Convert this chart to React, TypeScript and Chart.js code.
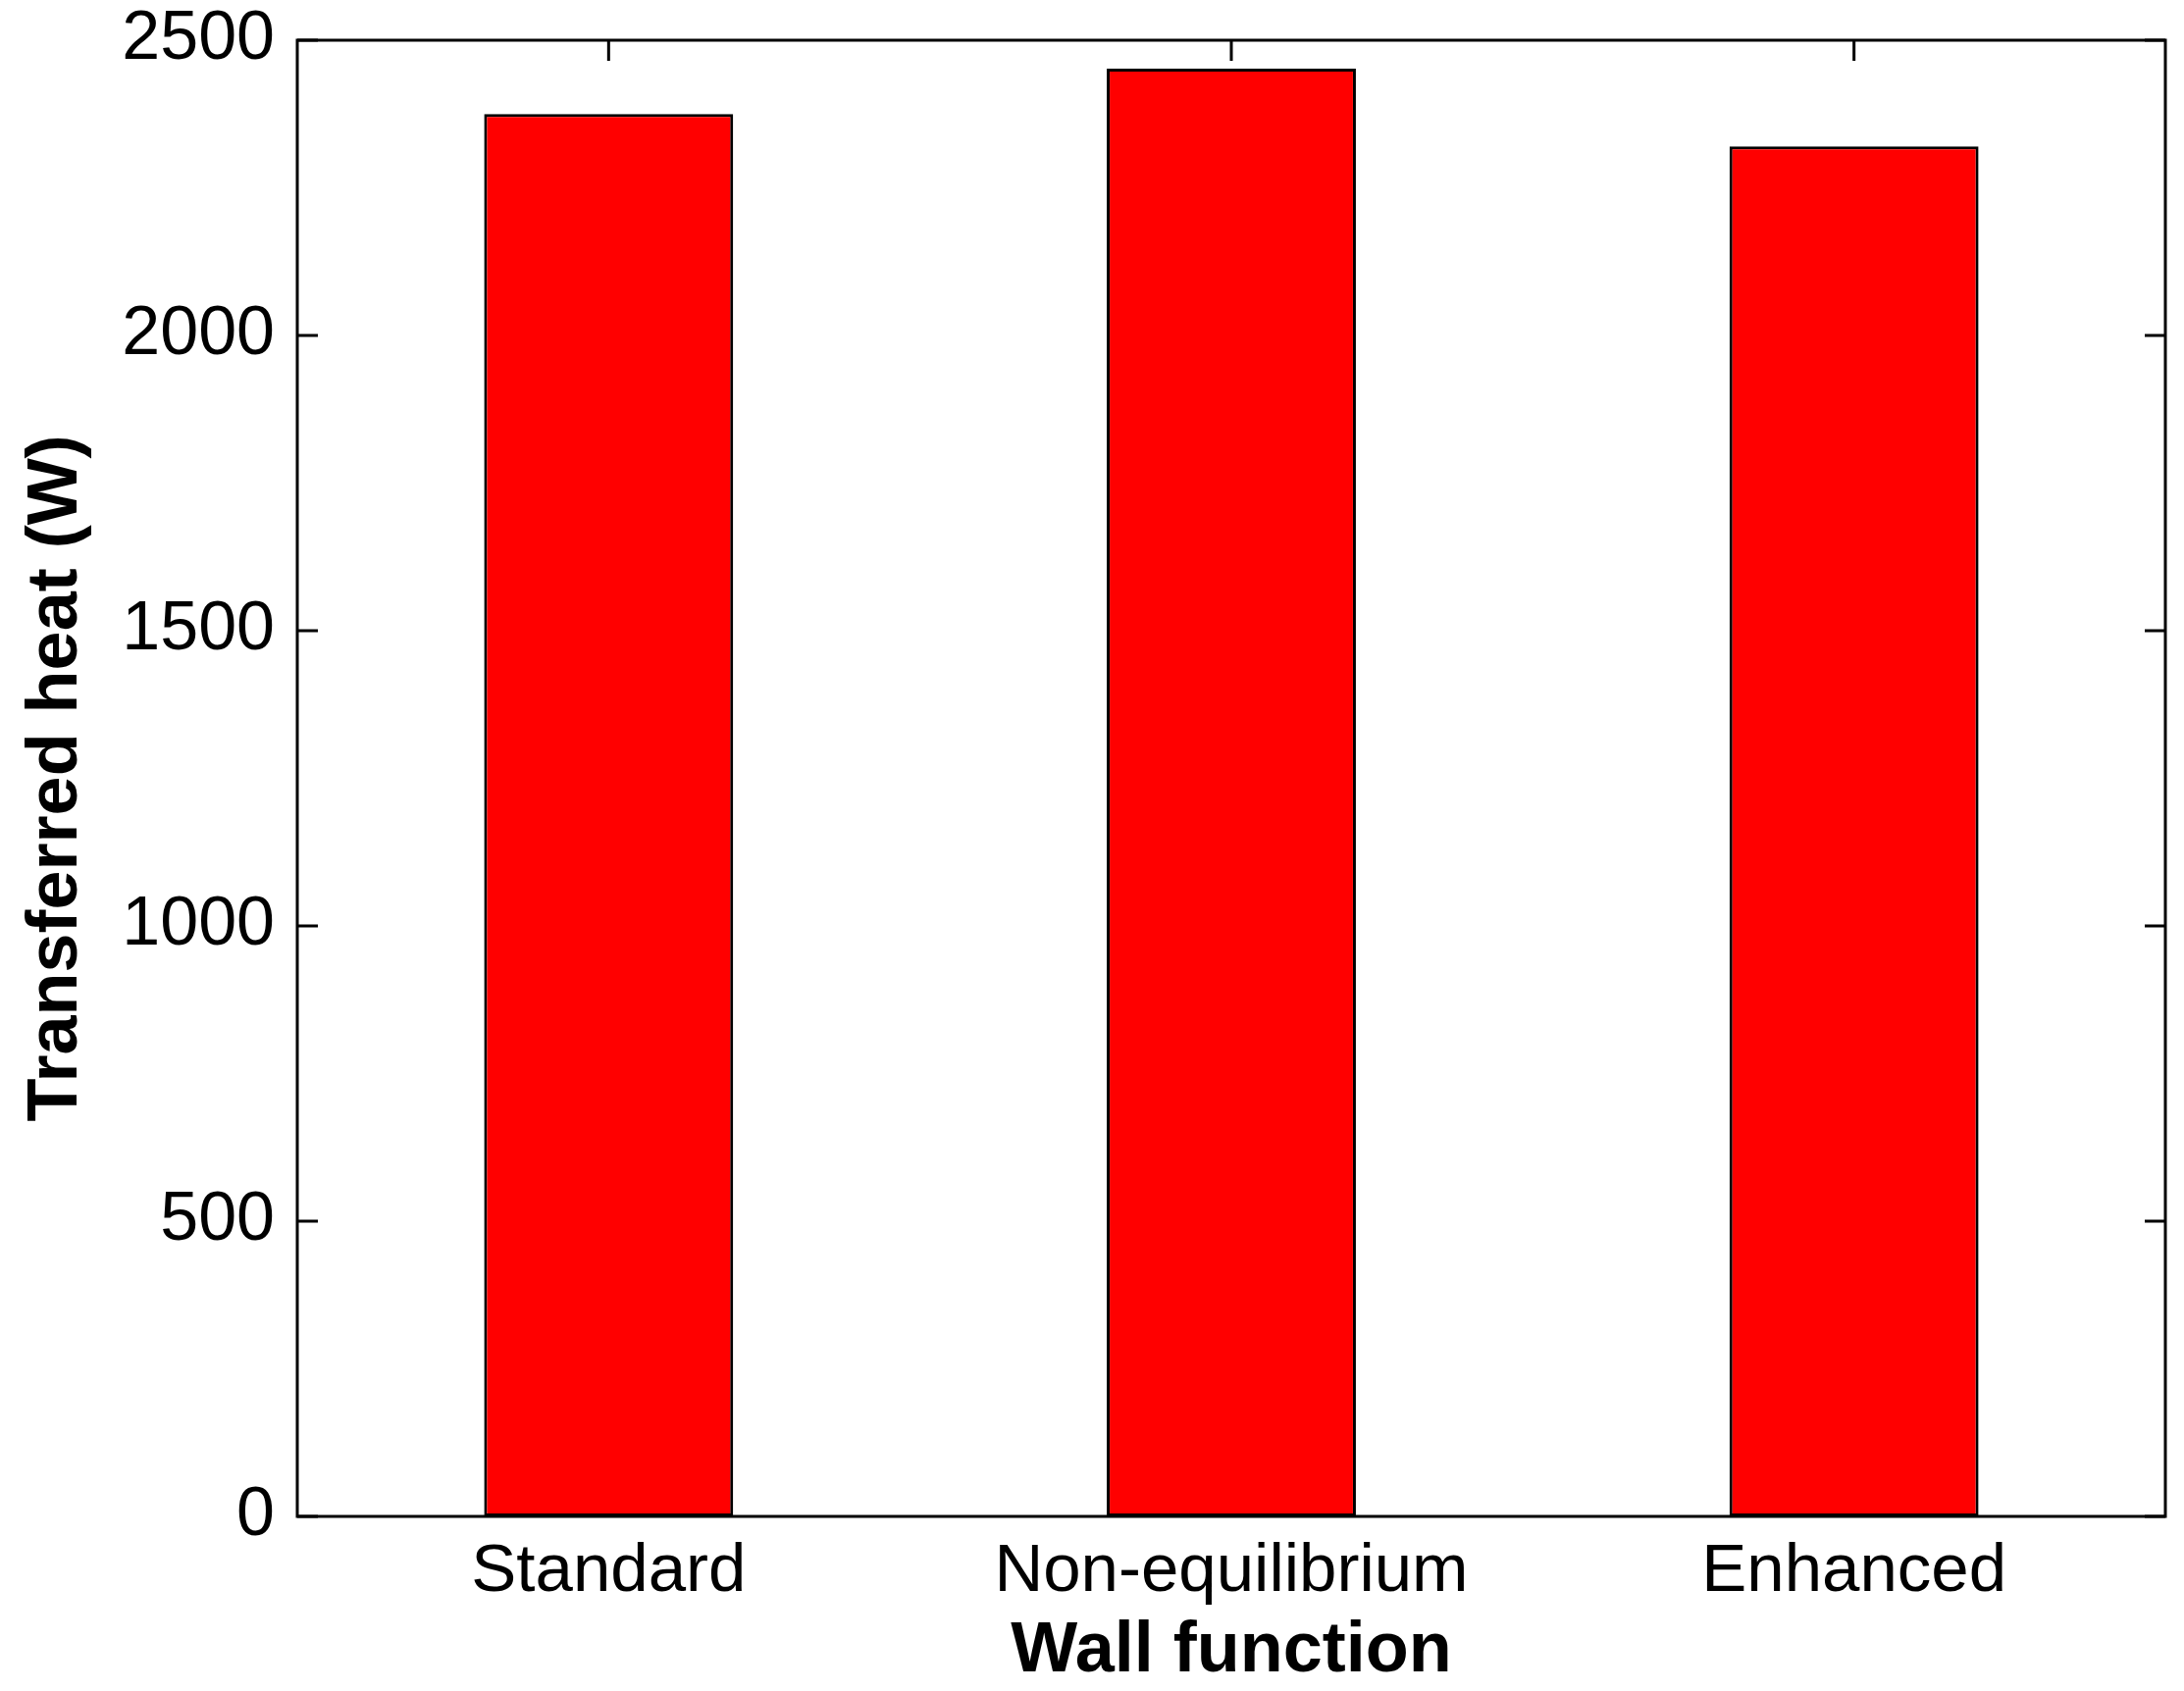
import { useEffect, useRef } from "react"
import { Chart, registerables } from "chart.js"

Chart.register(...registerables)

const categories = ["Standard", "Non-equilibrium", "Enhanced"]
const heatValues = [2375, 2452, 2320]
const yTicks = [0, 500, 1000, 1500, 2000, 2500]

const FONT = "'Liberation Sans', Arial, Helvetica, sans-serif"
const TICK = 21

// MATLAB-like box with inward tick marks
const boxPlugin = {
  id: "box",
  afterDraw(chart: any) {
    const { ctx, chartArea: a, scales } = chart
    const y = scales.y
    const x = scales.x
    ctx.save()
    ctx.strokeStyle = "#000"
    ctx.lineWidth = 3
    ctx.beginPath()
    y.ticks.forEach((_t: any, i: number) => {
      const py = y.getPixelForTick(i)
      ctx.moveTo(a.left, py)
      ctx.lineTo(a.left + TICK, py)
      ctx.moveTo(a.right, py)
      ctx.lineTo(a.right - TICK, py)
    })
    x.ticks.forEach((_t: any, i: number) => {
      const px = x.getPixelForTick(i)
      ctx.moveTo(px, a.top)
      ctx.lineTo(px, a.top + TICK)
    })
    ctx.stroke()
    ctx.strokeRect(a.left, a.top, a.right - a.left, a.bottom - a.top)
    ctx.restore()
  },
}

export default function App() {
  const canvasRef = useRef<HTMLCanvasElement>(null)
  const chartRef = useRef<Chart | null>(null)

  useEffect(() => {
    if (!canvasRef.current) return
    if (chartRef.current) chartRef.current.destroy()

    chartRef.current = new Chart(canvasRef.current, {
      type: "bar",
      data: {
        labels: categories,
        datasets: [
          {
            label: "Transferred heat",
            data: heatValues,
            backgroundColor: "#ff0000",
            borderColor: "#000000",
            borderWidth: 3,
            borderSkipped: false,
            barPercentage: 0.4,
            categoryPercentage: 1,
          },
        ],
      },
      options: {
        animation: false,
        responsive: false,
        devicePixelRatio: 1,
        layout: { padding: { top: 41, right: 19, left: 0, bottom: 0 } },
        plugins: {
          legend: { display: false },
          tooltip: { enabled: false },
        },
        scales: {
          x: {
            grid: { display: false, drawTicks: false },
            border: { display: false },
            ticks: {
              color: "#000",
              font: { family: FONT, size: 69 },
              padding: 16,
              maxRotation: 0,
              minRotation: 0,
              autoSkip: false,
            },
            title: {
              display: true,
              text: "Wall function",
              color: "#000",
              font: { family: FONT, size: 72, weight: "bold", lineHeight: 1 },
              padding: { top: 0, bottom: 4 },
            },
            afterFit(scale: any) {
              scale.height = 178
              scale.paddingLeft = 0
              scale.paddingRight = 0
            },
          },
          y: {
            min: 0,
            max: 2500,
            afterBuildTicks(scale: any) {
              scale.ticks = yTicks.map((v) => ({ value: v }))
            },
            grid: { display: false, drawTicks: false },
            border: { display: false },
            ticks: {
              color: "#000",
              font: { family: FONT, size: 70 },
              padding: 23,
              callback: (v: any) => String(v),
            },
            title: {
              display: true,
              text: "Transferred heat (W)",
              color: "#000",
              font: { family: FONT, size: 72, weight: "bold", lineHeight: 1 },
              padding: { top: 22, bottom: 0 },
            },
            afterFit(scale: any) {
              scale.width = 303
              scale.paddingTop = 0
              scale.paddingBottom = 0
            },
          },
        },
      },
      plugins: [boxPlugin],
    })

    return () => {
      if (chartRef.current) {
        chartRef.current.destroy()
        chartRef.current = null
      }
    }
  }, [])

  return (
    <div style={{ position: "absolute", left: 0, top: 0, width: 2226, height: 1724, background: "#fff" }}>
      <canvas ref={canvasRef} width={2226} height={1724} style={{ display: "block" }}></canvas>
    </div>
  )
}
